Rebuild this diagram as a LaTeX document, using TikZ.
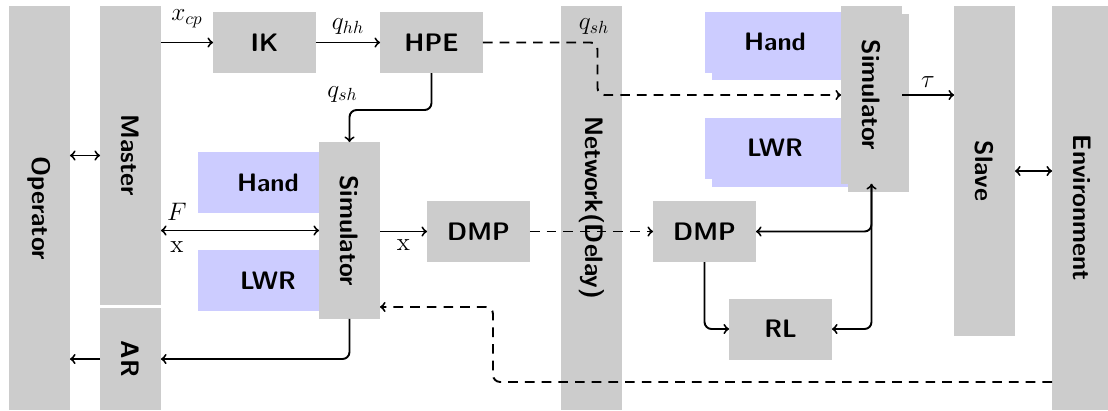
\documentclass[tikz,border=0pt]{standalone}
\usepackage{graphicx}
\usetikzlibrary{calc,shadows}

\newcommand{\vtxt}[1]{\rotatebox[origin=c]{-90}{#1}}

\tikzset{
  blk/.style={fill=gray!40, inner sep=0pt, outer sep=0pt,
    minimum width=2.06cm, minimum height=1.22cm, font=\sffamily\bfseries\Large},
  bar/.style={blk, minimum width=1.22cm},
  part/.style={blk, fill=blue!20, minimum width=2.8cm},
  stack/.style={copy shadow={fill=#1, draw=none, shadow xshift=0.14cm, shadow yshift=-0.16cm}},
  lbl/.style={inner sep=4pt, font=\Large},
  link/.style={line width=1.1pt},
  dsh/.style={link, dash pattern=on 5.5pt off 4pt},
}

\begin{document}
\begin{tikzpicture}[x=0.02cm, y=-0.02cm, >=to]
  \useasboundingbox (0,0) rectangle (1108,410);

  % outer blocks
  \node[bar, minimum height=8.08cm] (op) at (39.5,208) {\vtxt{Operator}};
  \node[bar, minimum height=5.98cm] (master) at (130.5,155.5) {\vtxt{Master}};
  \node[bar, minimum height=2.04cm] (ar) at (130.5,359) {\vtxt{AR}};
  \node[bar, minimum height=8.08cm] (net) at (591.5,208) {\vtxt{Network(Delay)}};
  \node[bar, minimum height=6.6cm] (slave) at (984.5,171) {\vtxt{Slave}};
  \node[bar, minimum height=8.08cm] (env) at (1082.5,208) {\vtxt{Environment}};

  % master side
  \node[blk] (ik) at (264.5,42.5) {IK};
  \node[blk] (hpe) at (431.5,42.5) {HPE};
  \node[part] (hand1) at (268,182.5) {Hand};
  \node[part] (lwr1) at (268,280.5) {LWR};
  \node[bar, minimum height=3.54cm] (sim1) at (349.5,230.5) {\vtxt{Simulator}};
  \node[blk] (dmp1) at (478.5,231.5) {DMP};

  % slave side
  \node[part, stack=blue!20] (hand2) at (775,42) {Hand};
  \node[part, stack=blue!20] (lwr2) at (775,148) {LWR};
  \node[bar, stack=gray!40, minimum height=3.56cm] (sim2) at (871.5,95) {\vtxt{Simulator}};
  \node[blk] (dmp2) at (704.5,231.5) {DMP};
  \node[blk] (rl) at (780.5,329) {RL};

  % connectors
  \draw[link, <->] (master.west) -- (master.west -| op.east);
  \draw[link, ->] (ar.west) -- (ar.west -| op.east);
  \draw[link, <->] (slave.east) -- (slave.east -| env.west);
  \draw[link, ->] (ik.west -| master.east) -- node[lbl, above, yshift=4pt] {$x_{cp}$} (ik.west);
  \draw[link, ->] (ik) -- node[lbl, above] {$q_{hh}$} (hpe);
  \draw[link, ->, rounded corners] (hpe.south) |- ($(sim1.north)+(0,-32)$)
    node[lbl, above, xshift=-4pt] {$q_{sh}$} -- (sim1.north);
  \draw[link, ->, rounded corners] (sim1.south) |- (ar.east);
  \draw[link, <->] (sim1.west -| master.east) -- (sim1.west)
    node[lbl, pos=0.1, above, yshift=1pt] {$F$} node[lbl, pos=0.1, below, yshift=-2pt] {x};
  \draw[link, ->] (sim1.east |- dmp1) -- node[lbl, below] {x} (dmp1.west);
  \draw[dsh, ->] (dmp1) -- (dmp2);
  \draw[dsh, ->, rounded corners] (hpe.east) -| node[lbl, pos=0.5, above, xshift=-2pt] {$q_{sh}$}
    ($(net.center |- sim2.west)+(6,0)$) -- (sim2.west);
  \draw[link, ->] (sim2.east) -- node[lbl, above] {$\tau$} (sim2.east -| slave.west);
  \draw[link, ->, rounded corners] (sim2.south) |- (dmp2.east);
  \draw[link, <->, rounded corners] (rl.east) -| (sim2.south);
  \draw[link, ->, rounded corners] (dmp2.south) |- (rl.west);
  \draw[dsh, ->, rounded corners] ($(env.south west)+(0,-28)$) -| ($(sim1.south east)+(113,-12)$)
    -- ($(sim1.south east)+(0,-12)$);
\end{tikzpicture}
\end{document}
